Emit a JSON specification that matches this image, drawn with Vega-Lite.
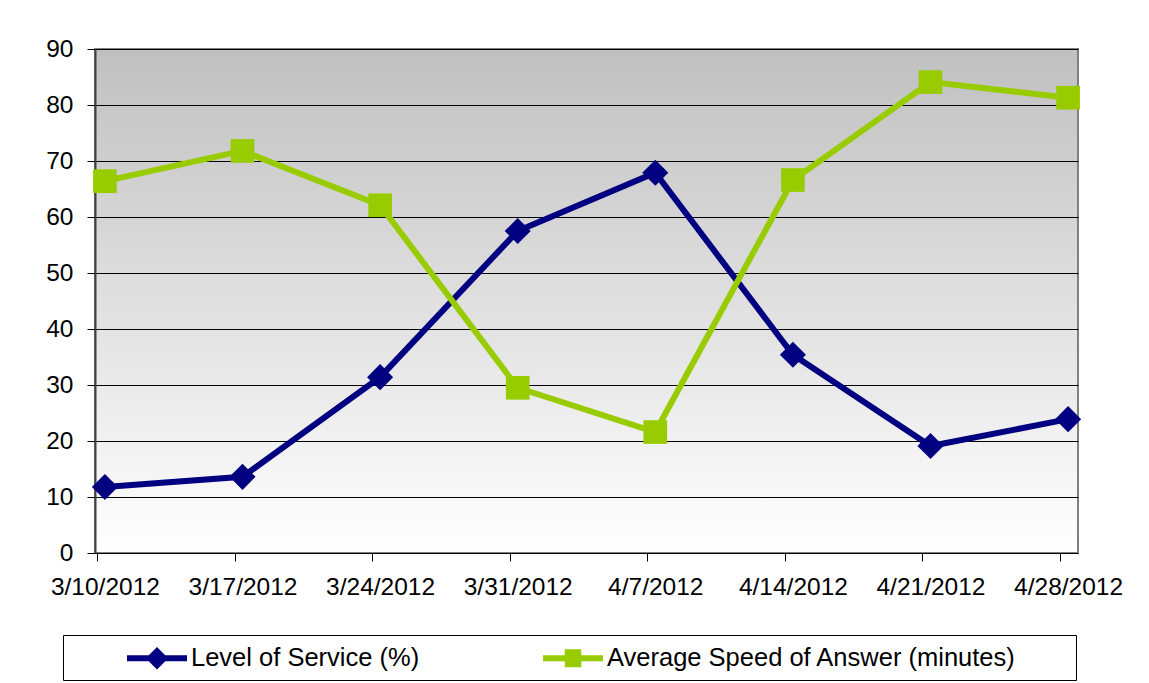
{
  "$schema": "https://vega.github.io/schema/vega-lite/v6.json",
  "width": 983,
  "height": 504,
  "autosize": {"type": "none"},
  "padding": {"left": 95, "top": 49, "right": 71, "bottom": 130},
  "background": "white",
  "config": {
    "font": "Liberation Sans",
    "view": {
      "stroke": "#808080",
      "strokeWidth": 2,
      "fill": {
        "gradient": "linear",
        "x1": 0, "y1": 0, "x2": 0, "y2": 1,
        "stops": [
          {"offset": 0, "color": "#c0c0c0"},
          {"offset": 1, "color": "#ffffff"}
        ]
      }
    }
  },
  "data": {
    "values": [
      {"date": "3/10/2012", "series": "Level of Service (%)", "value": 11.8},
      {"date": "3/17/2012", "series": "Level of Service (%)", "value": 13.6},
      {"date": "3/24/2012", "series": "Level of Service (%)", "value": 31.4},
      {"date": "3/31/2012", "series": "Level of Service (%)", "value": 57.5},
      {"date": "4/7/2012", "series": "Level of Service (%)", "value": 67.9},
      {"date": "4/14/2012", "series": "Level of Service (%)", "value": 35.4},
      {"date": "4/21/2012", "series": "Level of Service (%)", "value": 19.1},
      {"date": "4/28/2012", "series": "Level of Service (%)", "value": 23.9},
      {"date": "3/10/2012", "series": "Average Speed of Answer (minutes)", "value": 66.4},
      {"date": "3/17/2012", "series": "Average Speed of Answer (minutes)", "value": 71.8},
      {"date": "3/24/2012", "series": "Average Speed of Answer (minutes)", "value": 62.1},
      {"date": "3/31/2012", "series": "Average Speed of Answer (minutes)", "value": 29.5},
      {"date": "4/7/2012", "series": "Average Speed of Answer (minutes)", "value": 21.6},
      {"date": "4/14/2012", "series": "Average Speed of Answer (minutes)", "value": 66.6},
      {"date": "4/21/2012", "series": "Average Speed of Answer (minutes)", "value": 84.1},
      {"date": "4/28/2012", "series": "Average Speed of Answer (minutes)", "value": 81.3}
    ]
  },
  "encoding": {
    "x": {
      "field": "date",
      "type": "ordinal",
      "sort": null,
      "scale": {"type": "point", "padding": 0.072},
      "axis": {
        "title": null,
        "labelAngle": 0,
        "labelFont": "Liberation Sans",
        "labelFontSize": 24.5,
        "labelColor": "black",
        "tickColor": "black",
        "tickSize": 8,
        "tickOffset": -8,
        "labelOffset": 8,
        "labelPadding": 14,
        "domainColor": "black",
        "grid": false
      }
    },
    "y": {
      "field": "value",
      "type": "quantitative",
      "scale": {"domain": [0, 90], "nice": false},
      "axis": {
        "title": null,
        "values": [0, 10, 20, 30, 40, 50, 60, 70, 80, 90],
        "labelFont": "Liberation Sans",
        "labelFontSize": 24.5,
        "labelColor": "black",
        "tickColor": "black",
        "tickSize": 8,
        "labelPadding": 14,
        "domainColor": "#404040",
        "domainWidth": 2,
        "grid": true,
        "gridColor": "black",
        "gridWidth": 1,
        "gridOpacity": 1
      }
    },
    "color": {
      "field": "series",
      "type": "nominal",
      "sort": ["Level of Service (%)", "Average Speed of Answer (minutes)"],
      "scale": {
        "domain": ["Level of Service (%)", "Average Speed of Answer (minutes)"],
        "range": ["#000080", "#99cc00"]
      },
      "legend": {
        "orient": "none",
        "legendX": -32,
        "legendY": 586,
        "direction": "horizontal",
        "title": " ",
        "titleOrient": "right",
        "titlePadding": 52,
        "titleFontSize": 10,
        "strokeColor": "black",
        "fillColor": "white",
        "padding": 8,
        "labelFont": "Liberation Sans",
        "labelFontSize": 25.5,
        "labelColor": "black",
        "labelLimit": 600,
        "symbolSize": 900,
        "symbolOffset": 71,
        "labelOffset": 19,
        "columnPadding": 67,
        "encode": {
          "symbols": {
            "update": {
              "shape": {"signal": "datum.value === 'Level of Service (%)' ? 'M-2,-0.2L-0.55,-0.2L0,-0.75L0.55,-0.2L2,-0.2L2,0.2L0.55,0.2L0,0.75L-0.55,0.2L-2,0.2Z' : 'M-2,-0.2L-0.55,-0.2L-0.55,-0.6L0.55,-0.6L0.55,-0.2L2,-0.2L2,0.2L0.55,0.2L0.55,0.6L-0.55,0.6L-0.55,0.2L-2,0.2Z'"},
              "fill": {"signal": "datum.value === 'Level of Service (%)' ? '#000080' : '#99cc00'"},
              "fillOpacity": {"value": 1},
              "opacity": {"value": 1},
              "stroke": {"value": "transparent"},
              "strokeWidth": {"value": 0}
            }
          }
        }
      }
    }
  },
  "layer": [
    {
      "mark": {"type": "line", "strokeWidth": 6}
    },
    {
      "transform": [{"filter": "datum.series === 'Level of Service (%)'"}],
      "mark": {"type": "point", "filled": true, "opacity": 1, "shape": "diamond", "size": 680}
    },
    {
      "transform": [{"filter": "datum.series === 'Average Speed of Answer (minutes)'"}],
      "mark": {"type": "point", "filled": true, "opacity": 1, "shape": "square", "size": 560}
    }
  ]
}
